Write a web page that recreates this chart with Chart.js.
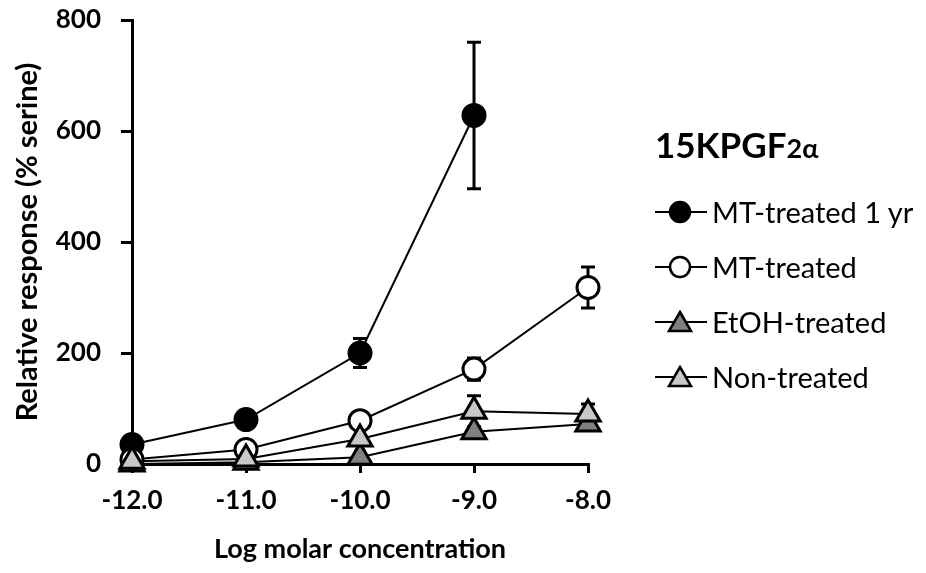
<!DOCTYPE html>
<html>
<head>
<meta charset="utf-8">
<script src="https://cdn.jsdelivr.net/npm/chart.js@4.4.1/dist/chart.umd.min.js"></script>
<style>
  body { margin: 0; background: #fff; font-family: Lato, "Open Sans", sans-serif; }
  #wrap { position: relative; width: 926px; height: 573px; }
  #legend { position: absolute; left: 655px; top: 122px; color: #000; }
  #legend .ttl { font-weight: bold; font-size: 35px; line-height: 44px; height: 62px; }
  #legend .ttl span { font-size: 27px; }
  #legend .item { display: flex; align-items: center; height: 55px; font-size: 29px; }
  #legend svg { margin-right: 5px; }
</style>
</head>
<body>
<div id="wrap">
  <canvas id="chart"></canvas>
  <div id="legend"></div>
</div>
<script>
// Log molar concentration
const concLabels = ['-12.0', '-11.0', '-10.0', '-9.0', '-8.0'];

// relative response (% serine), mean and error
const mt1yr     = [35, 80, 200, 628, null];
const mt1yrErr  = [0, 0, 26, 132, 0];
const mt        = [8, 26, 78, 171, 318];
const mtErr     = [0, 0, 0, 20, 37];
const etoh      = [0, 3, 12, 58, 72];
const etohErr   = [0, 0, 0, 0, 0];
const nonTr     = [5, 9, 45, 95, 90];
const nonTrErr  = [0, 0, 0, 28, 18];

const seriesNames = ['MT-treated 1 yr', 'MT-treated', 'EtOH-treated', 'Non-treated'];

const errorBars = {
  id: 'errorBars',
  beforeDatasetsDraw(chart) {
    const { ctx, scales: { x, y } } = chart;
    ctx.save();
    ctx.strokeStyle = '#000';
    ctx.lineWidth = 3;
    chart.data.datasets.forEach(ds => {
      ds.errors.forEach((e, j) => {
        const v = ds.data[j];
        if (v == null || !e) return;
        const px = x.getPixelForValue(j);
        const top = y.getPixelForValue(v + e);
        const bot = y.getPixelForValue(v - e);
        ctx.beginPath();
        ctx.moveTo(px, top); ctx.lineTo(px, bot);
        ctx.moveTo(px - 7, top); ctx.lineTo(px + 7, top);
        ctx.moveTo(px - 7, bot); ctx.lineTo(px + 7, bot);
        ctx.stroke();
      });
    });
    ctx.restore();
  }
};

function series(label, data, errors, style, fill, radius, order) {
  return {
    label: label, data: data, errors: errors, order: order,
    borderColor: '#000', borderWidth: 2,
    pointStyle: style, pointRadius: radius,
    pointBackgroundColor: fill, pointBorderColor: '#000', pointBorderWidth: 3,
    spanGaps: false, clip: false
  };
}

new Chart(document.getElementById('chart'), {
  type: 'line',
  data: {
    labels: concLabels,
    datasets: [
      series(seriesNames[0], mt1yr, mt1yrErr, 'circle', '#000', 11, 4),
      series(seriesNames[1], mt, mtErr, 'circle', '#fff', 11, 3),
      series(seriesNames[2], etoh, etohErr, 'triangle', '#808080', 14, 2),
      series(seriesNames[3], nonTr, nonTrErr, 'triangle', '#c8c8c8', 14, 1)
    ]
  },
  options: {
    responsive: true,
    maintainAspectRatio: false,
    animation: false,
    events: [],
    layout: { padding: { top: 20, right: 338, left: 0, bottom: 0 } },
    plugins: { legend: { display: false }, tooltip: { enabled: false } },
    scales: {
      x: {
        offset: false,
        grid: { display: true, drawOnChartArea: false, drawTicks: true, tickLength: 9, lineWidth: 3, color: '#000' },
        border: { color: '#000', width: 3 },
        ticks: { color: '#000', padding: 12, maxRotation: 0, font: { family: 'Lato', weight: 'bold', size: 26 } },
        title: { display: true, text: 'Log molar concentration', color: '#000',
                 padding: { top: 4, bottom: 8 }, font: { family: 'Lato', weight: 'bold', size: 27 } },
        afterFit(s) { s.height = 109; }
      },
      y: {
        min: 0, max: 800,
        grid: { display: true, drawOnChartArea: false, drawTicks: true, tickLength: 11, lineWidth: 3, color: '#000' },
        border: { color: '#000', width: 3 },
        ticks: { stepSize: 200, color: '#000', padding: 20, font: { family: 'Lato', weight: 'bold', size: 26 } },
        title: { display: true, text: 'Relative response (% serine)', color: '#000',
                 padding: { top: 10, bottom: 0 }, font: { family: 'Lato', weight: 'bold', size: 29 } },
        afterFit(s) { s.width = 132; s.paddingTop = 10; s.paddingBottom = 10; }
      }
    }
  },
  plugins: [errorBars]
});

// legend with line + marker icons
const legendMarks = [
  '<circle cx="25" cy="12" r="10" fill="#000" stroke="#000" stroke-width="2.5"/>',
  '<circle cx="25" cy="12" r="10" fill="#fff" stroke="#000" stroke-width="2.5"/>',
  '<polygon points="25,2 36,21 14,21" fill="#808080" stroke="#000" stroke-width="2.5"/>',
  '<polygon points="25,2 36,21 14,21" fill="#c8c8c8" stroke="#000" stroke-width="2.5"/>'
];
const leg = document.getElementById('legend');
let html = '<div class="ttl">15KPGF<span>2α</span></div>';
seriesNames.forEach((n, i) => {
  html += '<div class="item"><svg width="52" height="24"><line x1="0" y1="12" x2="52" y2="12" stroke="#000" stroke-width="2"/>' +
          legendMarks[i] + '</svg>' + n + '</div>';
});
leg.innerHTML = html;
</script>
</body>
</html>
